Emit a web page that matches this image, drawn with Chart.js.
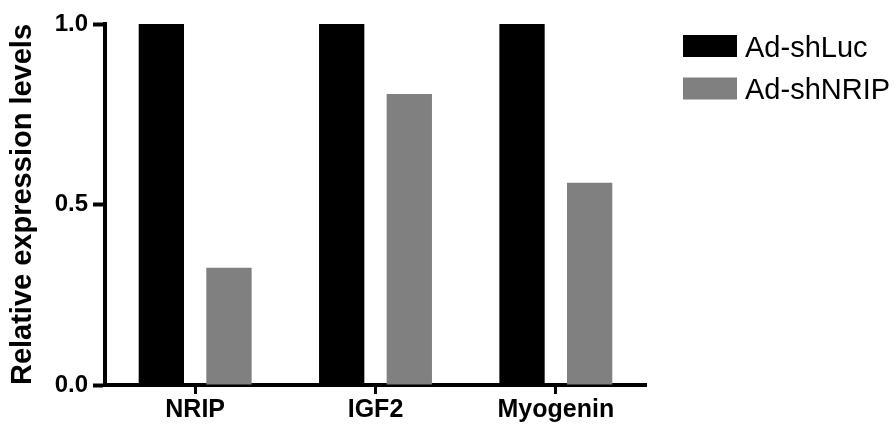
<!DOCTYPE html>
<html>
<head>
<meta charset="utf-8">
<script src="https://cdn.jsdelivr.net/npm/chart.js@4/dist/chart.umd.min.js"></script>
<style>
  html, body { margin: 0; padding: 0; background: #ffffff; }
  canvas { display: block; }
</style>
</head>
<body>
<canvas id="chart" width="895" height="429"></canvas>
<script>
// Genes measured
const categories = ['NRIP', 'IGF2', 'Myogenin'];
// Relative expression per adenovirus treatment
const shLucValues = [1.0, 1.0, 1.0];
const shNripValues = [0.325, 0.806, 0.56];
const seriesNames = ['Ad-shLuc', 'Ad-shNRIP'];
const seriesColors = ['#000000', '#808080'];
// Y axis tick values
const yTickValues = [0.0, 0.5, 1.0];

const FONT = "'Liberation Sans', Arial, sans-serif";

// Legend drawn to the right of the plot, boxes + labels from the datasets
const sideLegend = {
  id: 'sideLegend',
  afterDraw(chart) {
    const ctx = chart.ctx;
    ctx.save();
    ctx.font = '29px ' + FONT;
    ctx.textBaseline = 'alphabetic';
    ctx.textAlign = 'left';
    chart.data.datasets.forEach((ds, i) => {
      const top = 35 + i * 42.5;
      ctx.fillStyle = ds.backgroundColor;
      ctx.fillRect(683, top, 54, 22);
      ctx.fillStyle = '#000000';
      ctx.fillText(ds.label, 745, top + 21.5);
    });
    ctx.restore();
  }
};

new Chart(document.getElementById('chart'), {
  type: 'bar',
  data: {
    labels: categories,
    datasets: [
      { label: seriesNames[0], data: shLucValues, backgroundColor: seriesColors[0] },
      { label: seriesNames[1], data: shNripValues, backgroundColor: seriesColors[1] }
    ]
  },
  options: {
    responsive: false,
    animation: false,
    devicePixelRatio: 1,
    categoryPercentage: 0.75,
    barPercentage: 0.67,
    layout: { padding: { left: 0, right: 249, top: 24, bottom: 0 } },
    plugins: {
      legend: { display: false },
      tooltip: { enabled: false }
    },
    scales: {
      x: {
        offset: true,
        afterFit(scale) { scale.height = 44; },
        grid: {
          offset: false,
          drawOnChartArea: false,
          drawTicks: true,
          tickLength: 9,
          tickWidth: 3,
          tickColor: '#000000'
        },
        border: { display: true, color: '#000000', width: 4 },
        ticks: {
          color: '#000000',
          padding: 1,
          font: { family: FONT, size: 25, weight: 'bold' }
        }
      },
      y: {
        min: 0,
        max: 1,
        afterFit(scale) { scale.width = 105; },
        afterBuildTicks(scale) {
          scale.ticks = yTickValues.map(v => ({ value: v }));
        },
        grid: {
          drawOnChartArea: false,
          drawTicks: true,
          tickLength: 12,
          tickWidth: 4,
          tickColor: '#000000'
        },
        border: { display: true, color: '#000000', width: 4 },
        ticks: {
          color: '#000000',
          padding: 5,
          font: { family: FONT, size: 24, weight: 'bold' },
          callback: (v) => Number(v).toFixed(1)
        },
        title: {
          display: true,
          text: 'Relative expression levels',
          color: '#000000',
          padding: { top: 6, bottom: 0 },
          font: { family: FONT, size: 29, weight: 'bold' }
        }
      }
    }
  },
  plugins: [sideLegend]
});
</script>
</body>
</html>
